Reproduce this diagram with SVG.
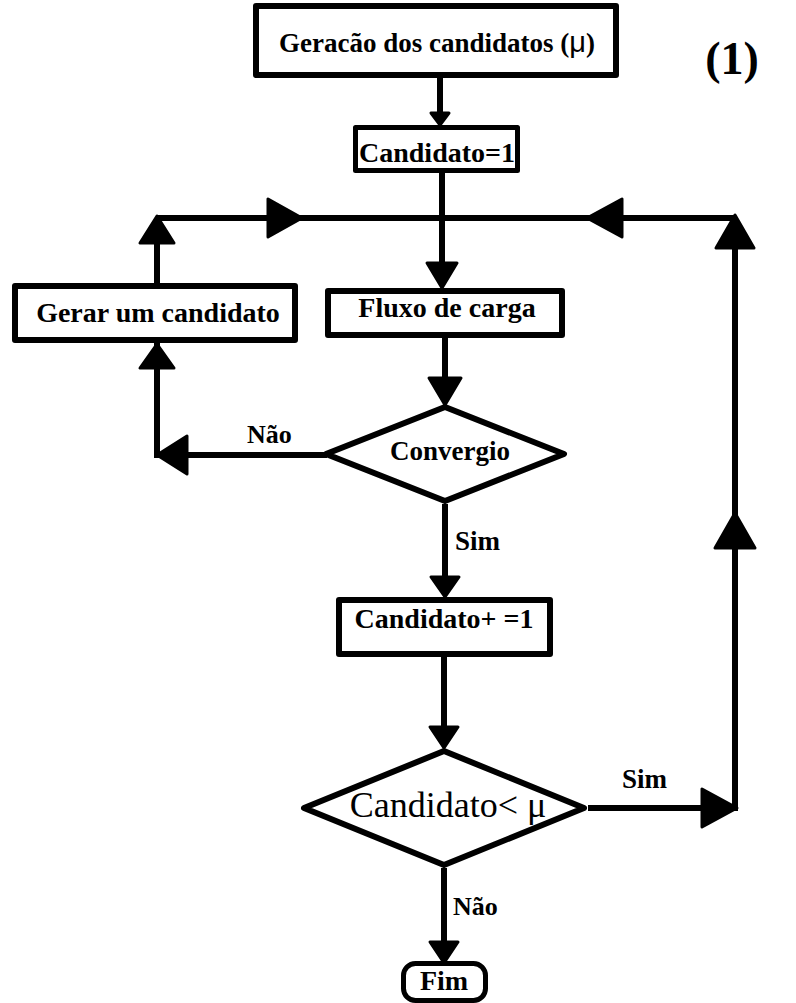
<svg xmlns="http://www.w3.org/2000/svg" width="796" height="1003" viewBox="0 0 796 1003">
<style>
.box{fill:#fff;stroke:#000;stroke-width:6;stroke-linejoin:round}
.ln{fill:none;stroke:#000;stroke-width:6}
.ah{fill:#000;stroke:#000;stroke-width:3;stroke-linejoin:round}
.t{font-family:"Liberation Serif","Times New Roman",serif;font-weight:bold;font-size:28px;fill:#000;text-anchor:middle}
.lb{font-family:"Liberation Serif","Times New Roman",serif;font-weight:bold;font-size:26px;fill:#000}
</style>
<rect width="796" height="1003" fill="#fff"/>
<g id="connectors">
<path class="ln" d="M440,78 V120"/>
<polygon class="ah" points="431,113 449,113 440,125"/>
<path class="ln" d="M442,173 V265"/>
<polygon class="ah" points="427,263 457,263 442,288"/>
<path class="ln" d="M157,218 H735"/>
<polygon class="ah" points="268,199 268,237 302,218"/>
<polygon class="ah" points="622,199 622,237 587,218"/>
<path class="ln" d="M157,218 V283"/>
<polygon class="ah" points="140,243 174,243 157,216"/>
<path class="ln" d="M157,343 V455 H327"/>
<polygon class="ah" points="140,368 174,368 157,344"/>
<polygon class="ah" points="187,436 187,474 157,455"/>
<path class="ln" d="M445,338 V380"/>
<polygon class="ah" points="429,378 461,378 445,405"/>
<path class="ln" d="M445,504 V580"/>
<polygon class="ah" points="431,577 459,577 445,597"/>
<path class="ln" d="M444,657 V730"/>
<polygon class="ah" points="430,727 458,727 444,748"/>
<path class="ln" d="M588,808 H735 V218"/>
<polygon class="ah" points="702,789 702,827 737,808"/>
<polygon class="ah" points="715,548 755,548 735,513"/>
<polygon class="ah" points="716,248 754,248 735,215"/>
<path class="ln" d="M444,868 V945"/>
<polygon class="ah" points="430,942 458,942 444,963"/>
<text class="lb" x="247" y="443">Não</text>
<text class="lb" x="455" y="550" style="font-size:27px">Sim</text>
<text class="lb" x="622" y="788" style="font-size:27px">Sim</text>
<text class="lb" x="453" y="915">Não</text>
</g>
<g id="n-geracao">
<rect class="box" x="256" y="6" width="360" height="69"/>
<text class="t" x="437" y="52" style="font-size:27px">Geracão dos candidatos (<tspan style="font-family:'Liberation Sans',Arial,sans-serif;font-weight:normal;font-size:29px">μ</tspan>)</text>
</g>
<g id="n-label1">
<text class="t" x="732" y="74" style="font-size:46px">(1)</text>
</g>
<g id="n-cand1">
<rect class="box" x="355.5" y="127.5" width="162" height="43" style="stroke-width:5"/>
<text class="t" x="437" y="162">Candidato=1</text>
</g>
<g id="n-gerar">
<rect class="box" x="15" y="286" width="280" height="54"/>
<text class="t" x="158" y="322">Gerar um candidato</text>
</g>
<g id="n-fluxo">
<rect class="box" x="328" y="291" width="234" height="44"/>
<text class="t" x="447" y="317">Fluxo de carga</text>
</g>
<g id="n-convergio">
<polygon class="box" points="445,407 564,454 445,501 326,454"/>
<text class="t" x="450" y="460" style="font-size:27px">Convergio</text>
</g>
<g id="n-candplus">
<rect class="box" x="339" y="600" width="211" height="54"/>
<text class="t" x="444" y="628">Candidato+ =1</text>
</g>
<g id="n-candlt">
<polygon class="box" points="444,751 584,808 444,865 304,808"/>
<text x="448" y="817" style="font-family:'Liberation Serif','Times New Roman',serif;font-size:36px;text-anchor:middle">Candidato&lt; μ</text>
</g>
<g id="n-fim">
<rect class="box" x="403.5" y="963.5" width="82" height="37" rx="12" style="stroke-width:5"/>
<text class="t" x="444" y="990">Fim</text>
</g>
</svg>
